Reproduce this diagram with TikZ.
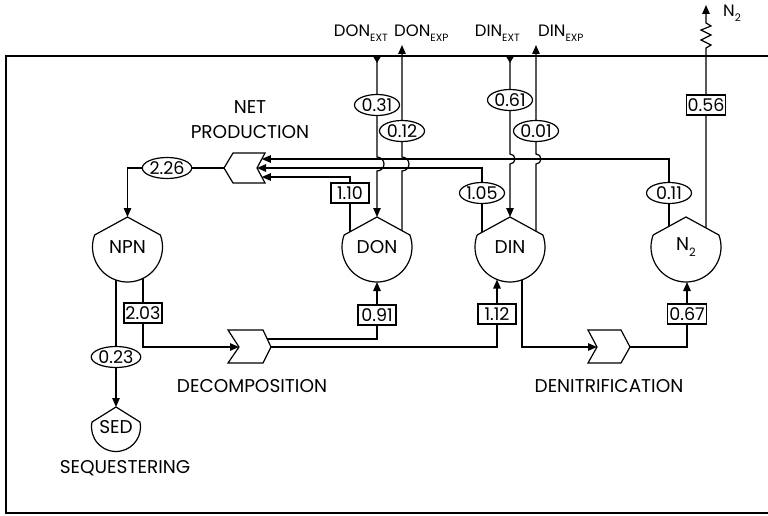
\documentclass[tikz,border=0pt]{standalone}
\usepackage{fontspec}
\setmainfont{Poppins}
\usetikzlibrary{arrows.meta,shapes.geometric,calc}
\newcommand\lblfont{\fontsize{18.5}{25}\selectfont}
\newcommand\toplblfont{\fontsize{16.5}{20}\selectfont}
\newcommand\numfont{\fontsize{17.5}{19}\selectfont}
\newcommand\subx[1]{\raisebox{-5.5pt}{\fontsize{11.5}{12}\selectfont #1}}
\newcommand\subsm[1]{\raisebox{-5pt}{\fontsize{10.5}{11}\selectfont #1}}
\newcommand\poolshape[4]{%
  \pgfmathsetmacro\poolAng{asin(#3/#2)}%
  \pgfmathsetmacro\poolXc{sqrt(#2*#2-#3*#3)}%
  \draw[conn] ($(#1.center)+(\poolXc,-#3)$) arc[start angle=-\poolAng, end angle=180+\poolAng, radius=#2] -- ($(#1.center)+(0,-#4)$) -- cycle;}
\tikzset{
  conn/.style={line width=1.2pt},
  pool/.style={circle, minimum size=70pt, inner sep=0pt, font=\lblfont},
  num/.style={ellipse, draw, fill=white, line width=1.2pt, minimum width=45pt, minimum height=21pt, inner sep=0pt, font=\numfont},
  boxv/.style={rectangle, draw, fill=white, line width=1.2pt, minimum width=38pt, minimum height=20pt, inner sep=1.5pt, font=\numfont},
  lbl/.style={font=\lblfont, inner sep=0pt},
  toplbl/.style={font=\toplblfont, inner sep=0pt},
  flowarrow/.style={conn, -{Triangle[length=9pt,width=7.5pt]}},
  inarrow/.style={conn, {Triangle[reversed,length=7pt,width=8pt]}-{Triangle[length=9pt,width=7.5pt]}},
}
\begin{document}
\begin{tikzpicture}[x=1pt,y=-1pt]
\useasboundingbox (0,0) rectangle (768,516);
% outer frame
\draw[line width=1.3pt] (772,56) -- (6,56) -- (6,513) -- (772,513);

% pools
\node[pool] (NPN) at (127.5,247) {NPN};
\node[pool] (DON) at (377,247) {DON};
\node[pool] (DIN) at (510,247) {DIN};
\node[pool] (N2) at (686,247) {N\subx{2}};
\node[circle, minimum size=49pt, inner sep=0pt, font=\lblfont] (SED) at (116,427) {SED};
\poolshape{NPN}{35}{12}{30}
\poolshape{DON}{35}{12}{30}
\poolshape{DIN}{35}{12}{30}
\poolshape{N2}{35}{12}{30}
\poolshape{SED}{24.5}{5}{20}

% boundary points and process chevrons
\coordinate (bDONext) at (377,56);
\coordinate (bDONexp) at (402,45);
\coordinate (bDINext) at (510,56);
\coordinate (bDINexp) at (536,45);
\coordinate (bN2) at (706,5);
\coordinate (npP) at (224,168);
\coordinate (npN) at (257,168);
\coordinate (npU) at (261.8,159);
\coordinate (npL) at (261.8,177);
\coordinate (dcN) at (239,347);
\coordinate (dcP) at (271,347);
\coordinate (dcU) at (267.2,339);
\coordinate (dnN) at (597,347);
\coordinate (dnP) at (630,347);

\draw[conn] (npP) -- (233,153) -- (265,153) -- (npN) -- (265,183) -- (233,183) -- cycle;
\draw[conn] (dcN) -- (228,330) -- (263,330) -- (dcP) -- (263,363) -- (228,363) -- cycle;
\draw[conn] (dnN) -- (588,330) -- (621,330) -- (dnP) -- (621,363) -- (588,363) -- cycle;

% exchange with outside
\draw[inarrow] (bDONext) -- (377,157) arc[start angle=-90, end angle=90, radius=7] -- ($(DON.center)+(0,-30)$);
\draw[flowarrow] ($(DON.center)+(25,-16.3)$) -- (402,171) arc[start angle=90, end angle=-90, radius=7] -- (bDONexp);
\draw[inarrow] (bDINext) -- (510,154) arc[start angle=-90, end angle=90, radius=5] -- ($(DIN.center)+(0,-30)$);
\draw[flowarrow] ($(DIN.center)+(26,-15.8)$) -- (536,164) arc[start angle=90, end angle=-90, radius=5] -- (bDINexp);
\draw[flowarrow] ($(N2.center)+(20,-19.1)$) -- (706,48) -- (711,45) -- (701,40) -- (711,35) -- (701,30) -- (711,26) -- (706,23) -- (bN2);

% net production
\draw[flowarrow] ($(N2.center)+(-17,-20.7)$) |- (npU);
\draw[flowarrow] ($(DIN.center)+(-28,-14.7)$) |- (npN);
\draw[flowarrow] ($(DON.center)+(-27,-15.2)$) |- (npL);
\draw[flowarrow] (npP) -| ($(NPN.center)+(0,-30)$);

% sequestering, decomposition, denitrification
\draw[flowarrow] ($(NPN.center)+(-11.5,33.1)$) -- ($(SED.center)+(0,-20)$);
\draw[flowarrow] ($(NPN.center)+(15.5,31.4)$) |- (dcN);
\draw[flowarrow] (dcU) -| ($(DON.center)+(0,35)$);
\draw[flowarrow] (dcP) -| ($(DIN.center)+(-13,32.5)$);
\draw[flowarrow] ($(DIN.center)+(12,32.9)$) |- (dnN);
\draw[flowarrow] (dnP) -| ($(N2.center)+(1,35)$);

% values
\node[num] (v031) at (377,105) {0.31};
\node[num] (v012) at (402,131) {0.12};
\node[num] (v061) at (510,100) {0.61};
\node[num] (v001) at (536,131) {0.01};
\node[boxv] (v056) at (706,105) {0.56};
\node[num] (v226) at (167,168) {2.26};
\node[boxv] (v110) at (350,193) {1.10};
\node[num] (v105) at (482,193) {1.05};
\node[num] (v011) at (669,193) {0.11};
\node[boxv] (v203) at (143,313) {2.03};
\node[num] (v023) at (116,357) {0.23};
\node[boxv] (v091) at (377,315) {0.91};
\node[boxv] (v112) at (497,314) {1.12};
\node[boxv] (v067) at (687,314) {0.67};

% texts
\node[toplbl, anchor=base east] (tDONext) at (388,37) {DON\subsm{EXT}};
\node[toplbl, anchor=base west] (tDONexp) at (394,37) {DON\subsm{EXP}};
\node[toplbl, anchor=base east] (tDINext) at (520,37) {DIN\subsm{EXT}};
\node[toplbl, anchor=base west] (tDINexp) at (538,37) {DIN\subsm{EXP}};
\node[toplbl, anchor=base west] (tN2) at (723,17) {N\subsm{2}};
\node[lbl, align=center] (tNP) at (250,120) {NET\\PRODUCTION};
\node[lbl] (tDEC) at (252,386) {DECOMPOSITION};
\node[lbl] (tDEN) at (609,386) {DENITRIFICATION};
\node[lbl] (tSEQ) at (125,468) {SEQUESTERING};
\end{tikzpicture}
\end{document}
